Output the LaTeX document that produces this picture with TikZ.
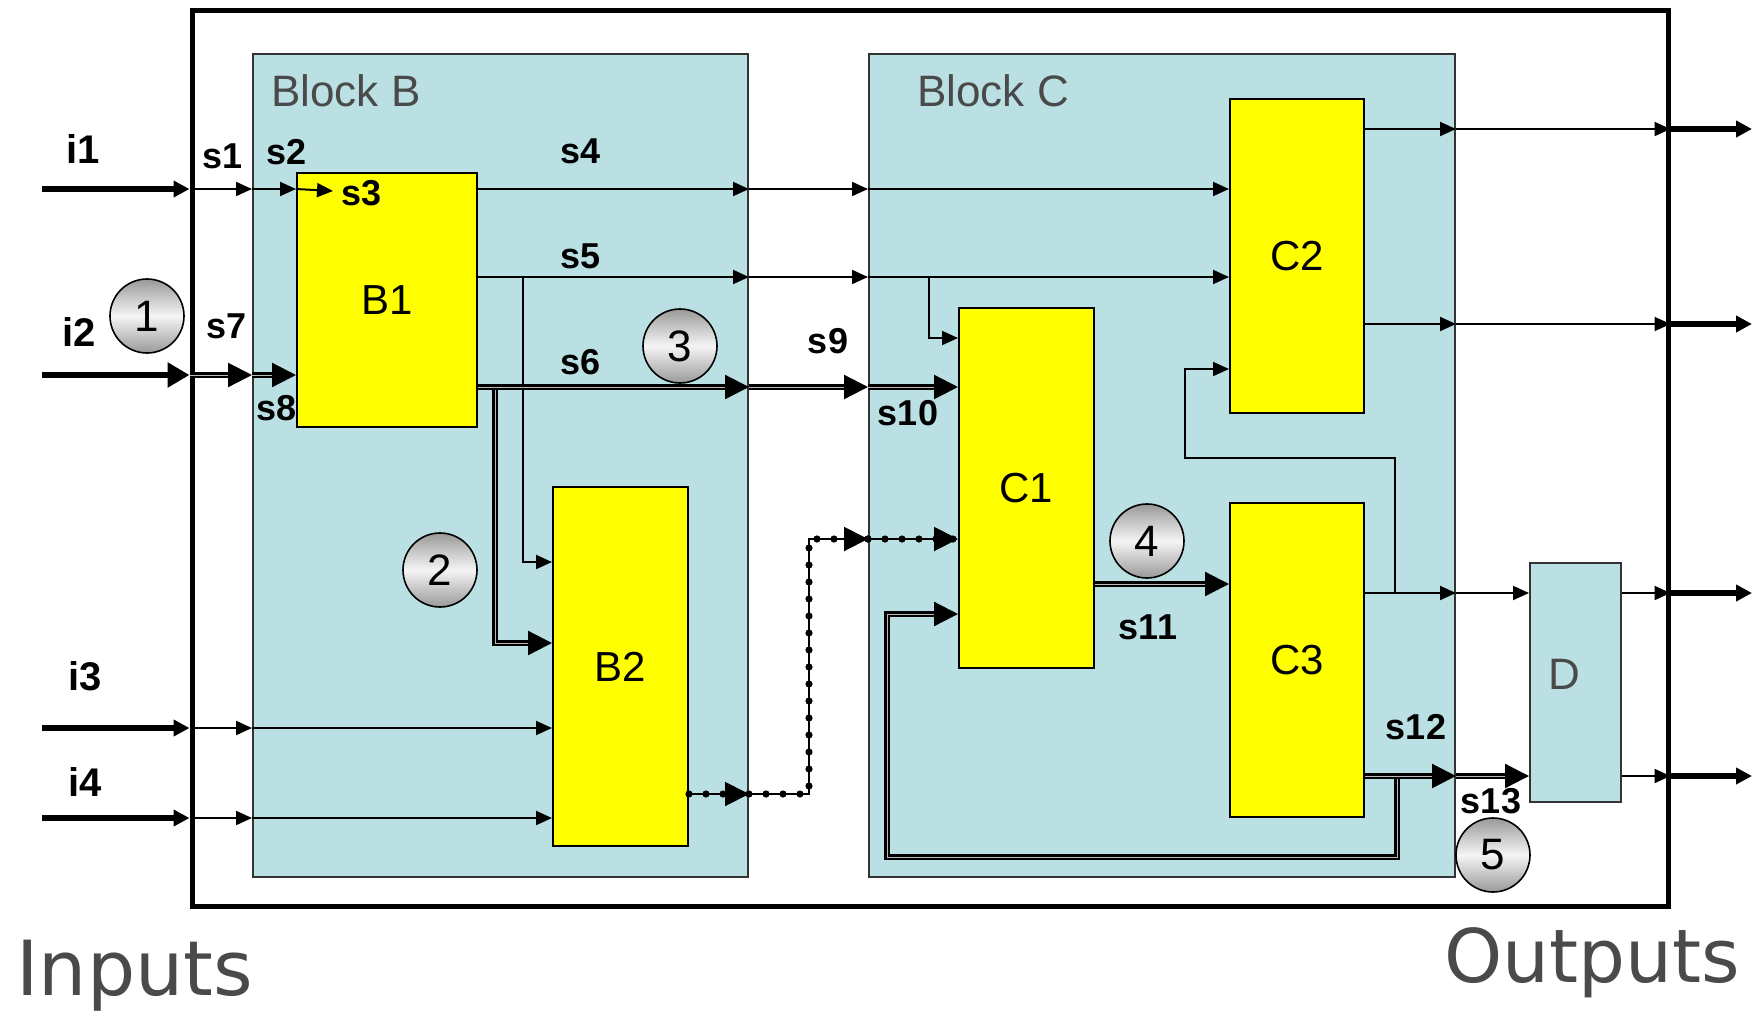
\documentclass[tikz,border=0pt]{standalone}
\usepackage{fontspec}
\setmainfont{Liberation Sans}
\newfontfamily\handfont{DejaVu Sans}
\usetikzlibrary{arrows.meta,positioning,calc}
\definecolor{blockcyan}{HTML}{BAE0E3}
\definecolor{boxyellow}{HTML}{FFFF00}
\definecolor{textgray}{HTML}{4A4A4A}

\begin{document}
\begin{tikzpicture}[
    x=0.5pt, y=-0.5pt,
    blk/.style={draw=black!80, fill=blockcyan, line width=1pt, inner sep=0pt},
    ybox/.style={draw, fill=boxyellow, line width=1pt, inner sep=0pt, font=\fontsize{21}{21}\selectfont},
    sig/.style={line width=1pt, -{Triangle[length=8pt,width=7pt]}},
    bus/.style={line width=1.15pt, double=gray!55, double distance=0.45pt, -{Triangle[length=12pt,width=12pt]}},
    pin/.style={line width=2.6pt, -{Triangle[length=8pt,width=8pt]}},
    bigpin/.style={line width=3pt, -{Triangle[length=11pt,width=12pt]}},
    dotsig/.style={line width=1pt, -{Triangle[length=12pt,width=12pt]},
        postaction={draw, -, line width=3.6pt, line cap=round, dash pattern=on 0pt off 8.5pt}},
    sname/.style={font=\bfseries\fontsize{18}{18}\selectfont, inner sep=0pt},
    iname/.style={font=\bfseries\fontsize{20}{20}\selectfont, inner sep=0pt},
    marker/.style={circle, draw, line width=0.8pt, minimum size=37pt, inner sep=0pt,
        top color=gray!80, bottom color=gray!80, middle color=gray!8, font=\fontsize{22}{22}\selectfont}
]
\fill[white] (0,0) rectangle (1753,1019);
\useasboundingbox (0,0) rectangle (1753,1019);

% frame and blocks
\node[draw, line width=2.5pt, minimum width=738pt, minimum height=448pt, inner sep=0pt] (sys) at (930,458) {};
\node[blk, minimum width=247.5pt, minimum height=411.5pt] (blkB) at (500.5,465.5) {};
\node[blk, minimum width=293pt, minimum height=411.5pt] (blkC) at (1162,465.5) {};
\node[anchor=west, text=textgray, font=\fontsize{22}{22}\selectfont, inner sep=0pt] (lblB) at (271,91) {Block B};
\node[anchor=west, text=textgray, font=\fontsize{22}{22}\selectfont, inner sep=0pt] (lblC) at (917,91) {Block C};
\node[blk, minimum width=45.5pt, minimum height=119.5pt] (D) at (1575.5,682.5) {};
\node[text=textgray, font=\fontsize{22}{22}\selectfont, inner sep=0pt] (lblD) at (1564,674) {D};

\node[ybox, minimum width=90pt, minimum height=127pt] (B1) at (387,300) {B1};
\node[ybox, minimum width=67.5pt, minimum height=179.5pt] (B2) at (620.5,666.5) {B2};
\node[ybox, minimum width=67.5pt, minimum height=180pt] (C1) at (1026.5,488) {C1};
\node[ybox, minimum width=67pt, minimum height=157pt] (C2) at (1297,256) {C2};
\node[ybox, minimum width=67pt, minimum height=157pt] (C3) at (1297,660) {C3};

% rows
\coordinate (row1) at (0,189);
\coordinate (row2) at (0,375);
\coordinate (row3) at (0,728);
\coordinate (row4) at (0,818);
\coordinate (row5) at (0,277);
\coordinate (row6) at (0,387);
\coordinate (rowC1a) at (0,338);
\coordinate (rowB2a) at (0,562);
\coordinate (rowB2b) at (0,643);
\coordinate (rowdB) at (0,794);
\coordinate (rowdC) at (0,539);
\coordinate (row11) at (0,584);
\coordinate (rowfb) at (0,614);
\coordinate (rowC2fb) at (0,369);
\coordinate (rowo1) at (0,129);
\coordinate (rowo2) at (0,324);
\coordinate (rowo3) at (0,593);
\coordinate (rowo4) at (0,776);

% inputs
\coordinate (in1) at (42,189);
\coordinate (in2) at (42,375);
\coordinate (in3) at (42,728);
\coordinate (in4) at (42,818);
\coordinate (s3tip) at (333,191);
\draw[pin] (in1) -- (in1 -| sys.west);
\draw[sig] (in1 -| sys.west) -- (in1 -| blkB.west);
\draw[sig] (in1 -| blkB.west) -- (in1 -| B1.west);
\draw[sig] (in1 -| B1.west) -- (s3tip);

\draw[bigpin] (in2) -- (in2 -| sys.west);
\draw[bus] (in2 -| sys.west) -- (in2 -| blkB.west);
\draw[bus] (in2 -| blkB.west) -- (in2 -| B1.west);

\draw[pin] (in3) -- (in3 -| sys.west);
\draw[sig] (in3 -| sys.west) -- (in3 -| blkB.west);
\draw[sig] (in3 -| blkB.west) -- (in3 -| B2.west);
\draw[pin] (in4) -- (in4 -| sys.west);
\draw[sig] (in4 -| sys.west) -- (in4 -| blkB.west);
\draw[sig] (in4 -| blkB.west) -- (in4 -| B2.west);

% B1 outputs
\coordinate (j5a) at (523,277);
\coordinate (j5b) at (929,277);
\coordinate (j6) at (495,389);
\draw[sig] (B1.east |- row1) -- (blkB.east |- row1);
\draw[sig] (blkB.east |- row1) -- (blkC.west |- row1);
\draw[sig] (blkC.west |- row1) -- (C2.west |- row1);
\draw[sig] (B1.east |- row5) -- (blkB.east |- row5);
\draw[sig] (blkB.east |- row5) -- (blkC.west |- row5);
\draw[sig] (blkC.west |- row5) -- (C2.west |- row5);
\draw[sig] (j5a) |- (B2.west |- rowB2a);
\draw[sig] (j5b) |- (C1.west |- rowC1a);
\draw[bus] (j6) |- (B2.west |- rowB2b);
\draw[bus] (B1.east |- row6) -- (blkB.east |- row6);
\draw[bus] (blkB.east |- row6) -- (blkC.west |- row6);
\draw[bus] (blkC.west |- row6) -- (C1.west |- row6);

% B2 to C1, dotted
\coordinate (dotc) at (809,794);
\draw[dotsig] (B2.east |- rowdB) -- (blkB.east |- rowdB);
\draw[dotsig] (blkB.east |- rowdB) -- (dotc) |- (blkC.west |- rowdC);
\draw[dotsig] (blkC.west |- rowdC) -- (C1.west |- rowdC);

% inside block C
\draw[bus] (C1.east |- row11) -- (C3.west |- row11);
\coordinate (fb2a) at (1395,593);
\coordinate (fb2b) at (1185,458);
\coordinate (fb1a) at (1397,779);
\coordinate (fb1b) at (887,857);
\draw[sig] (fb2a) |- (fb2b) |- (C2.west |- rowC2fb);
\draw[bus] (fb1a) |- (fb1b) |- (C1.west |- rowfb);

% outputs
\coordinate (out1) at (1752,129);
\coordinate (out2) at (1752,324);
\coordinate (out3) at (1752,593);
\coordinate (out4) at (1752,776);
\draw[sig] (C2.east |- rowo1) -- (blkC.east |- rowo1);
\draw[sig] (blkC.east |- rowo1) -- (sys.east |- rowo1);
\draw[pin] (sys.east |- rowo1) -- (out1);
\draw[sig] (C2.east |- rowo2) -- (blkC.east |- rowo2);
\draw[sig] (blkC.east |- rowo2) -- (sys.east |- rowo2);
\draw[pin] (sys.east |- rowo2) -- (out2);
\draw[sig] (C3.east |- rowo3) -- (blkC.east |- rowo3);
\draw[sig] (blkC.east |- rowo3) -- (D.west |- rowo3);
\draw[bus] (C3.east |- rowo4) -- (blkC.east |- rowo4);
\draw[bus] (blkC.east |- rowo4) -- (D.west |- rowo4);
\draw[sig] (D.east |- rowo3) -- (sys.east |- rowo3);
\draw[pin] (sys.east |- rowo3) -- (out3);
\draw[sig] (D.east |- rowo4) -- (sys.east |- rowo4);
\draw[pin] (sys.east |- rowo4) -- (out4);

% signal names
\node[iname] (ni1) at (83,149) {i1};
\node[iname] (ni2) at (79,332) {i2};
\node[iname] (ni3) at (85,676) {i3};
\node[iname] (ni4) at (85,782) {i4};
\node[sname] (ns1) at (223,156) {s1};
\node[sname] (ns2) at (287,152) {s2};
\node[sname] (ns3) at (362,193) {s3};
\node[sname] (ns4) at (581,151) {s4};
\node[sname] (ns5) at (581,256) {s5};
\node[sname] (ns6) at (581,362) {s6};
\node[sname] (ns7) at (227,326) {s7};
\node[sname] (ns8) at (277,408) {s8};
\node[sname] (ns9) at (828,341) {s9};
\node[sname] (ns10) at (908,413) {s10};
\node[sname] (ns11) at (1148,627) {s11};
\node[sname] (ns12) at (1416,727) {s12};
\node[sname] (ns13) at (1491,801) {s13};

% numbered markers
\node[marker] (m1) at (147,316) {1};
\node[marker] (m2) at (440,570) {2};
\node[marker] (m3) at (680,346) {3};
\node[marker] (m4) at (1147,541) {4};
\node[marker] (m5) at (1493,855) {5};

\node[anchor=base west, text=textgray, font=\handfont\fontsize{38}{38}\selectfont, inner sep=0pt] (inlbl) at (16,995) {Inputs};
\node[anchor=base east, text=textgray, font=\handfont\fontsize{37}{37}\selectfont, inner sep=0pt] (outlbl) at (1740,982) {Outputs};
\end{tikzpicture}
\end{document}
